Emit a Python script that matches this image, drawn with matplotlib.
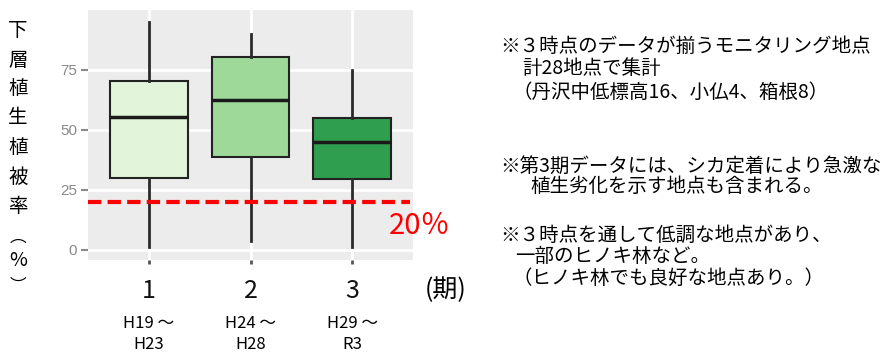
import matplotlib
matplotlib.use("Agg")
import matplotlib.pyplot as plt
from matplotlib.transforms import blended_transform_factory

plt.rcParams['font.family'] = ['Noto Sans CJK JP', 'DejaVu Sans']

# box plot statistics (vegetation cover %, 28 plots)
periods = ["1", "2", "3"]
period_ranges = ["H19 ～\nH23", "H24 ～\nH28", "H29 ～\nR3"]
whisker_low = [1.2, 3.7, 1.2]
q1 = [30.0, 38.8, 29.6]
medians = [55.4, 62.6, 45.0]
q3 = [70.4, 80.4, 55.0]
whisker_high = [95.0, 90.0, 75.0]
box_colors = ["#E2F4DA", "#9FD99A", "#2F9E4E"]
threshold = 20
yticks = [0, 25, 50, 75]

ylabel_chars = ["下", "層", "植", "生", "植", "被", "率", "︵", "%", "︶"]
ylabel_ypix = [30, 60, 89, 118, 148, 177, 207, 237, 261, 286]

notes = [
    (500, 46, "※３時点のデータが揃うモニタリング地点"),
    (522, 68, "計28地点で集計"),
    (512, 92, "（丹沢中低標高16、小仏4、箱根8）"),
    (500, 166, "※第3期データには、シカ定着により急激な"),
    (530, 187, "植生劣化を示す地点も含まれる。"),
    (500, 235, "※３時点を通して低調な地点があり、"),
    (515, 256, "一部のヒノキ林など。"),
    (512, 278, "（ヒノキ林でも良好な地点あり。）"),
]

W, H = 881, 354
fig = plt.figure(figsize=(W / 100, H / 100), dpi=100)
ax = fig.add_axes([88 / W, 1 - 260 / H, (413 - 88) / W, (260 - 10) / H])
ax.set_facecolor("#ECECEC")

positions = list(range(1, len(periods) + 1))
stats = []
for i in range(len(periods)):
    stats.append({
        "whislo": whisker_low[i], "q1": q1[i], "med": medians[i],
        "q3": q3[i], "whishi": whisker_high[i], "fliers": [],
    })

bp = ax.bxp(stats, positions=positions, widths=0.76, patch_artist=True,
            showfliers=False, showcaps=False,
            boxprops=dict(edgecolor="#222222", linewidth=1.5),
            whiskerprops=dict(color="#2a2a2a", linewidth=2),
            medianprops=dict(color="#1a1a1a", linewidth=2.5))
for patch, c in zip(bp["boxes"], box_colors):
    patch.set_facecolor(c)

ax.set_xlim(0.4, 3.6)
ax.set_ylim(-4.2, 100)
ax.set_yticks(yticks)
ax.set_yticklabels([str(v) for v in yticks], family="Liberation Sans",
                   fontsize=11, color="#8a8a8a")
ax.set_xticks(positions)
ax.set_xticklabels(periods, fontsize=18, color="#111111")
ax.tick_params(axis="y", length=5, width=1.5, color="#8a8a8a", pad=3)
ax.tick_params(axis="x", length=3, width=2, color="#555555", pad=10)
ax.grid(True, color="white", linewidth=2)
ax.set_axisbelow(True)
for s in ax.spines.values():
    s.set_visible(False)

ax.axhline(threshold, xmin=0, xmax=0.99, color="#FF0000", linewidth=3,
           linestyle=(0, (3.2, 1.5)), zorder=5)

tr = blended_transform_factory(ax.transData, fig.transFigure)
for x, lab in zip(positions, period_ranges):
    ax.text(x, 1 - 334 / H, lab, transform=tr, ha="center", va="center",
            fontsize=12, linespacing=1.25)

fig.text(446 / W, 1 - 290 / H, "(期)", ha="center", va="center", fontsize=18)
fig.text(420 / W, 1 - 226 / H, "20％", ha="center", va="center",
         fontsize=21, color="#FF0000")

for ch, yp in zip(ylabel_chars, ylabel_ypix):
    if ch in ("︵", "︶"):
        size = 12
    elif ch == "%":
        size = 14
    else:
        size = 14
    fig.text(18 / W, 1 - yp / H, ch, ha="center", va="center", fontsize=size)

for xp, yp, t in notes:
    fig.text(xp / W, 1 - yp / H, t, ha="left", va="center", fontsize=14)

fig.savefig("out.png", dpi=100)
